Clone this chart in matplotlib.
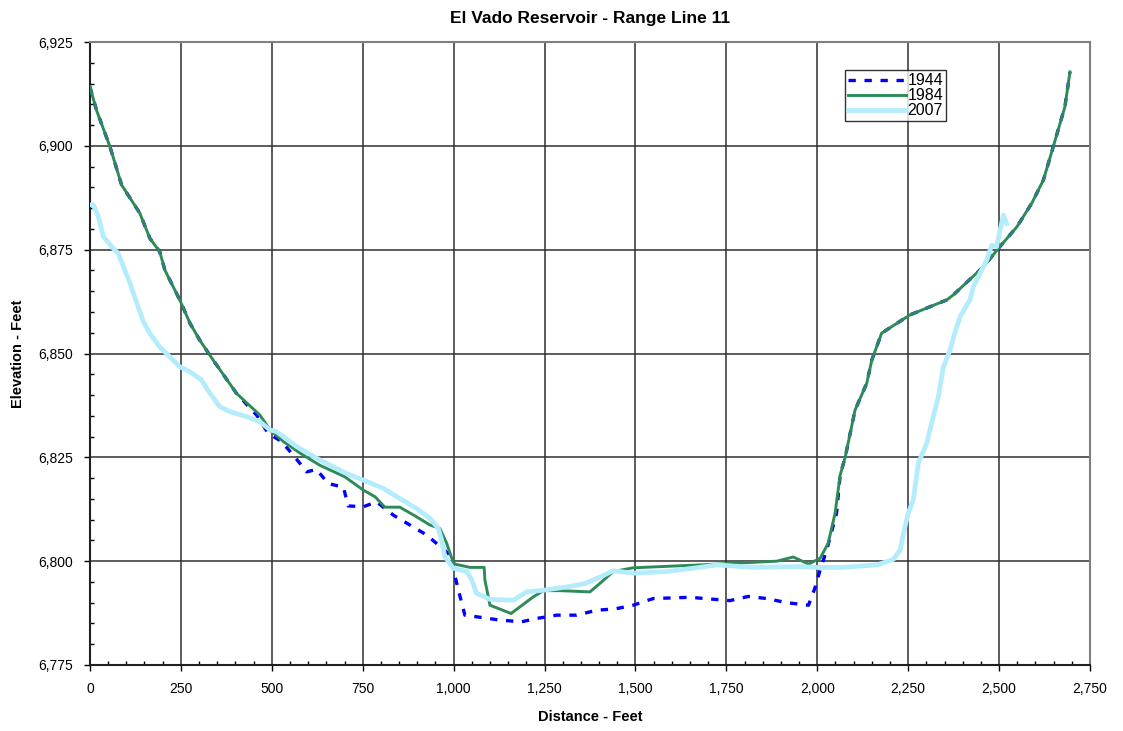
import matplotlib
matplotlib.use("Agg")
import matplotlib.pyplot as plt
from matplotlib.ticker import MultipleLocator, FuncFormatter

plt.rcParams['font.family'] = ['Liberation Sans', 'DejaVu Sans']

# 1944 survey
dist_1944 = [0, 18, 55, 87, 137, 165, 192, 206, 247, 275, 302, 339, 403, 458, 490, 527, 564, 596,
             623, 655, 697, 710, 752, 788, 834, 880, 926, 990, 1004, 1018, 1031, 1072, 1128, 1187,
             1228, 1284, 1338, 1394, 1444, 1494, 1549, 1650, 1705, 1760, 1810, 1861, 1916, 1976,
             1993, 2008, 2026, 2053, 2063, 2077, 2104, 2136, 2150, 2177, 2255, 2356, 2374, 2457,
             2498, 2549, 2590, 2622, 2649, 2681, 2695]
elev_1944 = [6914.2, 6908.6, 6899.8, 6890.6, 6883.8, 6877.7, 6874.5, 6870.1, 6862.9, 6857.3, 6853.2,
             6848.4, 6840.4, 6835.2, 6830.8, 6828.8, 6825.0, 6821.5, 6822.1, 6818.7, 6817.8, 6813.3,
             6813.1, 6814.3, 6811.1, 6808.7, 6806.3, 6801.5, 6796.3, 6791.4, 6787.0, 6786.5, 6785.8,
             6785.4, 6786.2, 6787.0, 6787.0, 6788.2, 6788.5, 6789.4, 6791.0, 6791.3, 6790.9, 6790.5,
             6791.5, 6791.0, 6790.0, 6789.4, 6793.4, 6797.9, 6802.7, 6811.5, 6820.7, 6825.1, 6836.4,
             6842.8, 6848.4, 6854.9, 6859.3, 6862.9, 6864.1, 6870.9, 6875.3, 6880.5, 6886.2, 6891.8,
             6899.8, 6909.4, 6917.8]

# 1984 survey
dist_1984 = [0, 18, 55, 87, 137, 165, 192, 206, 247, 275, 302, 339, 403, 467, 486, 495, 532, 578,
             632, 701, 752, 784, 811, 852, 898, 935, 962, 981, 995, 1003, 1045, 1084, 1086, 1100,
             1158, 1219, 1247, 1293, 1375, 1403, 1439, 1494, 1678, 1889, 1934, 1976, 2008, 2030,
             2049, 2063, 2077, 2104, 2136, 2150, 2177, 2255, 2356, 2374, 2457, 2498, 2549, 2590,
             2622, 2649, 2681, 2695]
elev_1984 = [6914.2, 6908.6, 6899.8, 6890.6, 6883.8, 6877.7, 6874.5, 6870.1, 6862.9, 6857.3, 6853.2,
             6848.4, 6840.4, 6835.2, 6832.8, 6831.6, 6828.8, 6826.0, 6823.1, 6820.3, 6817.1, 6815.5,
             6813.0, 6813.0, 6810.7, 6808.7, 6807.9, 6804.3, 6800.7, 6799.3, 6798.5, 6798.5, 6795.5,
             6789.4, 6787.4, 6791.4, 6792.9, 6792.9, 6792.6, 6794.7, 6797.5, 6798.4, 6799.1, 6800.0,
             6801.0, 6799.3, 6800.7, 6804.3, 6811.5, 6820.7, 6825.1, 6836.4, 6842.8, 6848.4, 6854.9,
             6859.3, 6862.9, 6864.1, 6870.9, 6875.3, 6880.5, 6886.2, 6891.8, 6899.8, 6909.4, 6917.8]

# 2007 survey
dist_2007 = [0, 9, 23, 37, 64, 78, 110, 147, 165, 192, 215, 247, 275, 307, 330, 357, 385, 431, 467,
             495, 513, 568, 623, 669, 706, 752, 807, 852, 898, 935, 958, 967, 976, 999, 1036, 1050,
             1063, 1100, 1164, 1201, 1247, 1311, 1361, 1403, 1439, 1494, 1586, 1659, 1724, 1824,
             1953, 2000, 2072, 2164, 2209, 2228, 2237, 2250, 2264, 2278, 2301, 2319, 2333, 2347,
             2365, 2379, 2393, 2420, 2429, 2466, 2480, 2493, 2512, 2521]
elev_2007 = [6885.8, 6885.8, 6883.0, 6878.1, 6875.3, 6874.1, 6866.9, 6857.6, 6854.8, 6851.6, 6849.6,
             6846.8, 6845.6, 6843.6, 6840.4, 6837.2, 6836.0, 6834.8, 6833.6, 6831.6, 6831.2, 6827.6,
             6824.8, 6822.7, 6821.1, 6819.5, 6817.5, 6815.1, 6812.7, 6810.3, 6807.9, 6805.1, 6801.1,
             6798.3, 6797.5, 6795.5, 6792.3, 6790.8, 6790.6, 6792.6, 6793.0, 6793.8, 6794.6, 6796.2,
             6797.7, 6797.1, 6797.5, 6798.3, 6799.1, 6798.5, 6798.7, 6798.5, 6798.5, 6799.1, 6800.4,
             6802.7, 6806.7, 6811.5, 6814.7, 6823.6, 6828.4, 6834.8, 6839.6, 6846.8, 6850.8, 6855.2,
             6858.9, 6862.9, 6866.1, 6872.5, 6876.1, 6875.7, 6883.3, 6881.3]

fig = plt.figure(figsize=(11.23, 7.31), dpi=100)
ax = fig.add_axes([0.0801, 0.0903, 0.8905, 0.8522])

ax.plot(dist_1944, elev_1944, color='#0000ff', lw=2.4, ls=(0, (2.2, 2.6)), label='1944', zorder=3)
ax.plot(dist_1984, elev_1984, color='#2e8b57', lw=2.1, label='1984', zorder=4)
ax.plot(dist_2007, elev_2007, color='#b3ecfb', lw=3.4, label='2007', zorder=5)

ax.set_xlim(0, 2750)
ax.set_ylim(6775, 6925)
ax.xaxis.set_major_locator(MultipleLocator(250))
ax.xaxis.set_minor_locator(MultipleLocator(50))
ax.yaxis.set_major_locator(MultipleLocator(25))
ax.yaxis.set_minor_locator(MultipleLocator(5))
fmt = FuncFormatter(lambda v, p: f"{v:,.0f}")
ax.xaxis.set_major_formatter(fmt)
ax.yaxis.set_major_formatter(fmt)
ax.tick_params(which='major', direction='out', length=4, width=1, labelsize=10, pad=8)
ax.tick_params(which='minor', direction='in', length=3, width=1)

ax.grid(True, which='major', color='#303030', lw=1.1)
ax.set_axisbelow(True)
for s in ax.spines.values():
    s.set_color('#808080')
    s.set_linewidth(1.5)
ax.spines['left'].set_color('#202020')
ax.spines['bottom'].set_color('#202020')

ax.set_title('El Vado Reservoir - Range Line 11', fontsize=12.5, fontweight='bold', pad=14)
ax.set_xlabel('Distance - Feet', fontsize=10.5, fontweight='bold', labelpad=10)
ax.set_ylabel('Elevation - Feet', fontsize=10.5, fontweight='bold', labelpad=10)

leg = ax.legend(loc='upper left', bbox_to_anchor=(0.755, 0.955), fontsize=11.5, frameon=True,
                fancybox=False, borderpad=0.2, labelspacing=0.0, handlelength=3.6,
                handletextpad=0.1, borderaxespad=0)
leg.get_frame().set_edgecolor('black')
leg.get_frame().set_linewidth(1.0)

fig.savefig('out.png', dpi=100)
